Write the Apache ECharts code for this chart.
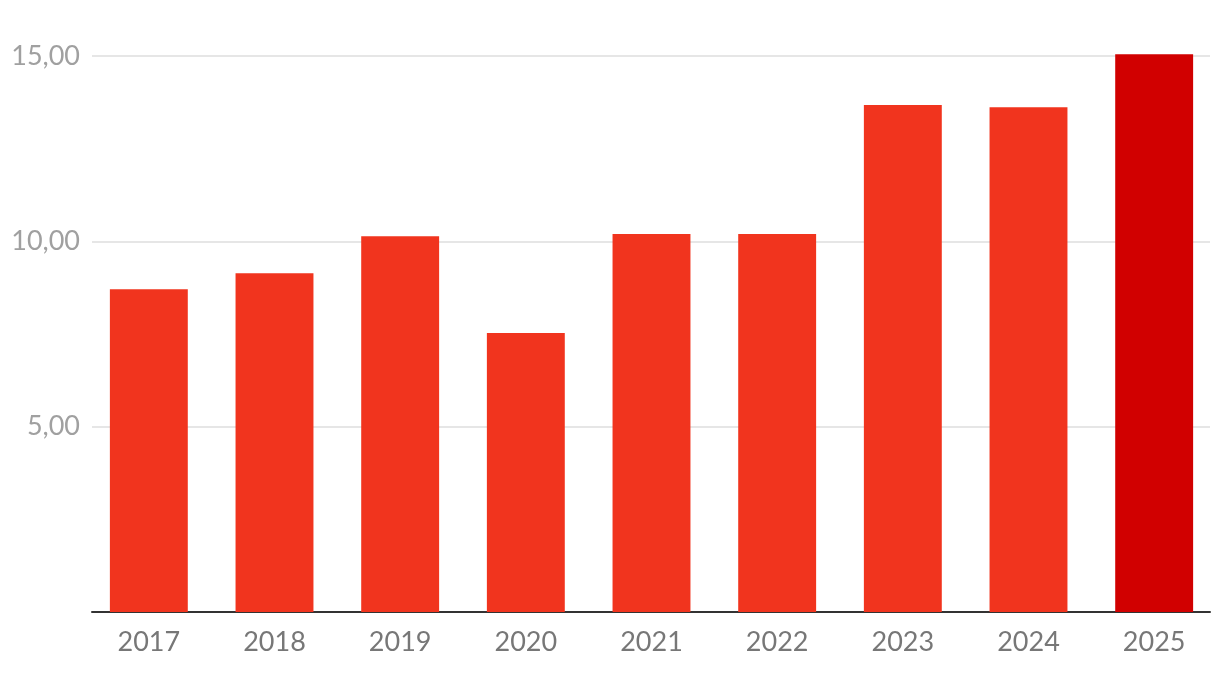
<!DOCTYPE html>
<html><head><meta charset="utf-8">
<script src="https://cdn.jsdelivr.net/npm/echarts@6/dist/echarts.min.js"></script>
<style>html,body{margin:0;padding:0;background:#fff}#c{width:1220px;height:676px}</style>
</head><body><div id="c"></div>
<script>
const categories = ['2017','2018','2019','2020','2021','2022','2023','2024','2025'];
const values = [8.71, 9.14, 10.14, 7.53, 10.2, 10.2, 13.68, 13.62, 15.05];
const yTicks = [0, 5, 10, 15];
const barColor = '#F1341E';
const highlightColor = '#D10000';

const yMin = yTicks[0], yMax = yTicks[yTicks.length-1];
const chart = echarts.init(document.getElementById('c'), null, {renderer:'canvas'});
chart.setOption({
  animation: false,
  grid: [
    {left: 86, right: 3, top: 56, bottom: 64, containLabel: false},
    {left: 92, right: 10, top: 56, bottom: 64, containLabel: false}
  ],
  xAxis: [{
    gridIndex: 0, type: 'category', data: categories,
    axisLine: {show: false},
    axisTick: {show: false},
    axisLabel: {color: '#777', fontFamily: 'Lato', fontSize: 27, margin: 17}
  }, {
    gridIndex: 1, type: 'category', data: categories,
    axisLine: {lineStyle: {color: '#333', width: 2}},
    axisTick: {show: false}, axisLabel: {show: false}
  }],
  yAxis: [{
    gridIndex: 0, type: 'value', min: yMin, max: yMax, interval: 5, show: false,
    splitLine: {show: false}
  }, {
    gridIndex: 1, type: 'value', min: yMin, max: yMax, interval: 5,
    axisLine: {show: false}, axisTick: {show: false},
    splitLine: {lineStyle: {color: '#e6e6e6', width: 2}},
    axisLabel: {color: '#a0a0a0', fontFamily: 'Lato', fontSize: 27, margin: 12,
      formatter: v => v === 0 ? '' : v.toFixed(2).replace('.', ',')}
  }],
  series: [{
    type: 'bar', xAxisIndex: 0, yAxisIndex: 0, clip: false, barWidth: '62%', z: 3,
    data: values.map((v, i) => ({value: v, itemStyle: {color: i === values.length-1 ? highlightColor : barColor}}))
  }]
});
</script></body></html>
